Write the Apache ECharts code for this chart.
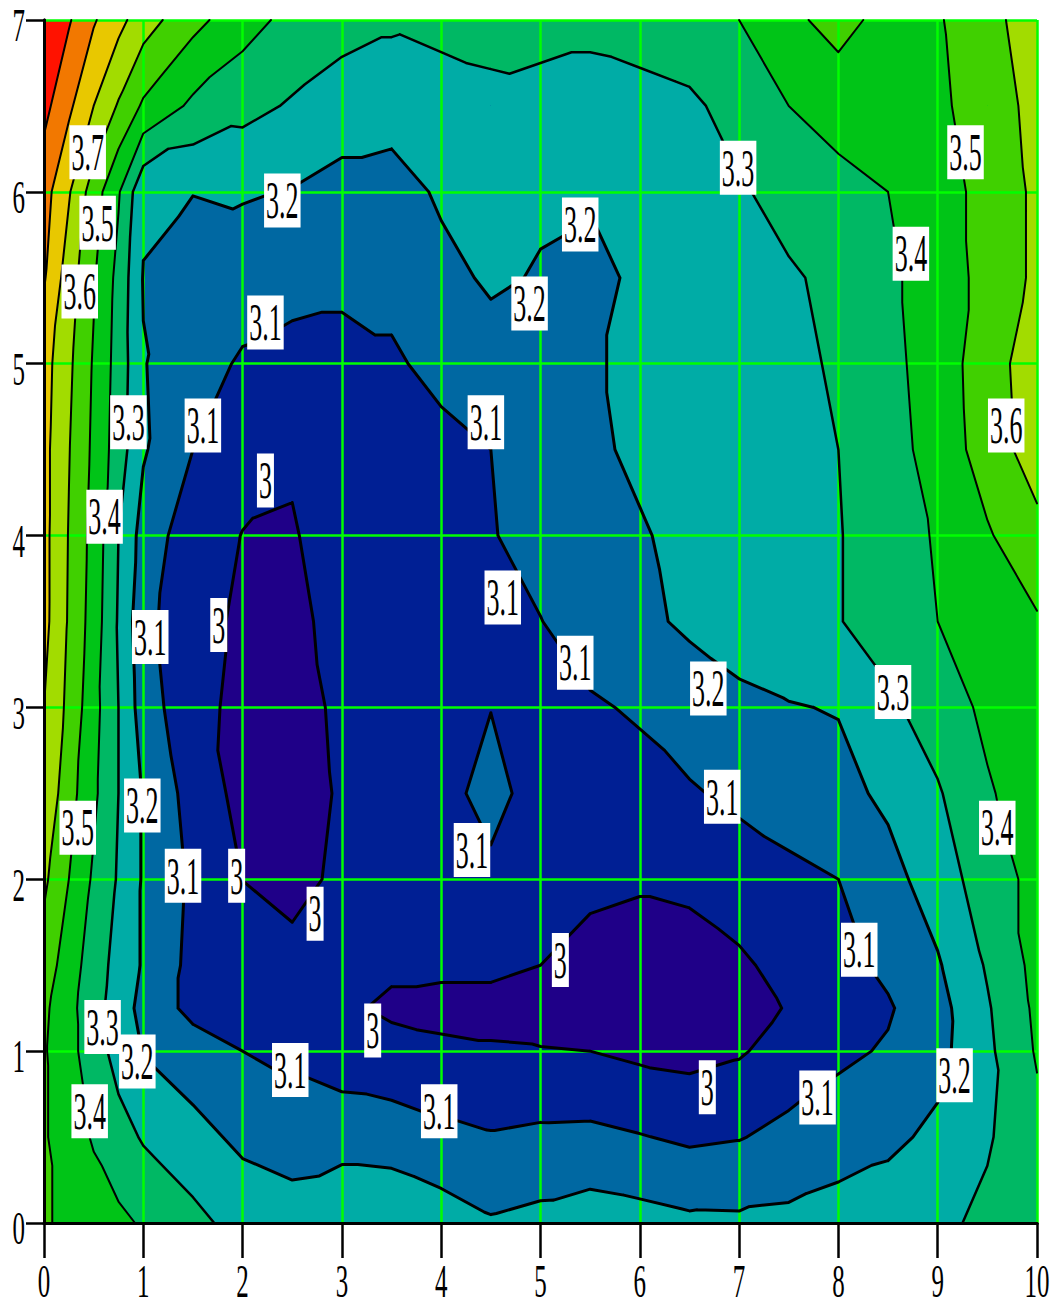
<!DOCTYPE html>
<html>
<head>
<meta charset="utf-8">
<title>Contour</title>
<script src="https://cdn.jsdelivr.net/npm/echarts@6/dist/echarts.min.js"></script>
<style>
  html, body { margin: 0; padding: 0; background: #fff; }
  #chart { width: 1060px; height: 1307px; }
</style>
</head>
<body>
<div id="chart"></div>
<script>
// grid nodes (x across, y up)
const xNodes = [0, 0.25, 0.5, 0.75, 1, 1.5, 2, 2.5, 3, 3.5, 4, 4.5, 5, 5.5, 6, 6.5, 7, 7.5, 8, 8.5, 9, 9.5, 10];
const yNodes = [0, 0.5, 1, 1.25, 1.5, 2, 2.5, 3, 3.5, 4, 4.5, 5, 5.5, 6, 6.5, 7];

// values, one row per y node
const z00  = [3.51, 3.48, 3.45, 3.42, 3.39, 3.33, 3.26, 3.24, 3.27, 3.27, 3.247, 3.21, 3.228, 3.25, 3.237, 3.219, 3.217, 3.223, 3.241, 3.253, 3.28, 3.32, 3.35];
const z05  = [3.51, 3.45, 3.39, 3.34, 3.29, 3.23, 3.18, 3.16, 3.167, 3.16, 3.13, 3.108, 3.12, 3.123, 3.105, 3.084, 3.095, 3.127, 3.155, 3.18, 3.22, 3.29, 3.37];
const z10  = [3.51, 3.43, 3.35, 3.26, 3.195, 3.15, 3.10, 3.07, 3.04, 3.02, 3.01, 3.005, 3.003, 3.00, 2.98, 2.97, 2.99, 3.04, 3.08, 3.11, 3.17, 3.28, 3.41];
const z125 = [3.52, 3.43, 3.34, 3.25, 3.17, 3.07, 3.04, 3.03, 3.01, 2.99, 2.985, 2.985, 2.975, 2.96, 2.95, 2.95, 2.97, 3.005, 3.05, 3.09, 3.165, 3.29, 3.42];
const z15  = [3.554, 3.45, 3.35, 3.265, 3.19, 3.07, 3.03, 3.03, 3.005, 3.01, 3.01, 3.01, 3.00, 2.97, 2.96, 2.96, 2.985, 3.03, 3.07, 3.12, 3.19, 3.31, 3.43];
const z20  = [3.62, 3.50, 3.385, 3.29, 3.19, 3.08, 2.999, 2.97, 3.02, 3.04, 3.05, 3.08, 3.04, 3.02, 3.01, 3.02, 3.05, 3.08, 3.10, 3.165, 3.25, 3.35, 3.43];
const z25  = [3.68, 3.54, 3.42, 3.30, 3.19, 3.06, 2.97, 2.96, 3.01, 3.04, 3.07, 3.13, 3.06, 3.06, 3.07, 3.09, 3.12, 3.14, 3.17, 3.22, 3.29, 3.39, 3.45];
const z30  = [3.70, 3.575, 3.435, 3.30, 3.15, 3.03, 2.975, 2.97, 3.015, 3.04, 3.07, 3.098, 3.07, 3.09, 3.11, 3.15, 3.18, 3.195, 3.205, 3.28, 3.35, 3.42, 3.46];
const z35  = [3.73, 3.59, 3.455, 3.29, 3.13, 3.03, 2.985, 2.985, 3.02, 3.04, 3.06, 3.08, 3.098, 3.14, 3.18, 3.215, 3.24, 3.265, 3.295, 3.35, 3.40, 3.45, 3.49];
const z40  = [3.73, 3.595, 3.465, 3.30, 3.16, 3.04, 2.998, 2.995, 3.03, 3.05, 3.07, 3.095, 3.13, 3.16, 3.19, 3.23, 3.25, 3.27, 3.295, 3.35, 3.41, 3.49, 3.57];
const z45  = [3.73, 3.605, 3.48, 3.35, 3.21, 3.10, 3.03, 3.008, 3.04, 3.06, 3.08, 3.10, 3.14, 3.18, 3.22, 3.24, 3.26, 3.28, 3.30, 3.36, 3.44, 3.545, 3.65];
const z50  = [3.74, 3.62, 3.49, 3.36, 3.205, 3.135, 3.09, 3.07, 3.07, 3.09, 3.12, 3.14, 3.16, 3.19, 3.22, 3.24, 3.26, 3.28, 3.31, 3.37, 3.45, 3.55, 3.66];
const z55  = [3.81, 3.65, 3.51, 3.37, 3.195, 3.16, 3.14, 3.13, 3.12, 3.12, 3.16, 3.22, 3.19, 3.17, 3.22, 3.25, 3.27, 3.29, 3.32, 3.38, 3.45, 3.53, 3.62];
const z60  = [3.84, 3.71, 3.55, 3.41, 3.22, 3.202, 3.21, 3.195, 3.16, 3.14, 3.22, 3.24, 3.22, 3.21, 3.23, 3.26, 3.29, 3.33, 3.36, 3.40, 3.46, 3.53, 3.62];
const z65  = [3.93, 3.82, 3.70, 3.59, 3.485, 3.38, 3.33, 3.29, 3.26, 3.26, 3.25, 3.27, 3.25, 3.25, 3.26, 3.28, 3.34, 3.40, 3.45, 3.46, 3.48, 3.55, 3.63];
const z70  = [4.00, 3.91, 3.81, 3.73, 3.645, 3.53, 3.44, 3.37, 3.33, 3.31, 3.33, 3.34, 3.35, 3.33, 3.35, 3.37, 3.40, 3.48, 3.53, 3.47, 3.49, 3.57, 3.65];
const zRows = [z00, z05, z10, z125, z15, z20, z25, z30, z35, z40, z45, z50, z55, z60, z65, z70];

const levels = [3.0, 3.1, 3.2, 3.3, 3.4, 3.5, 3.6, 3.7, 3.8, 3.9];
const xTicks = [0, 1, 2, 3, 4, 5, 6, 7, 8, 9, 10];
const yTicks = [0, 1, 2, 3, 4, 5, 6, 7];

// contour labels: [x, y, text]
const labelSpots = [
  [0.44, 6.23, '3.7'], [0.54, 5.82, '3.5'], [0.36, 5.42, '3.6'], [2.40, 5.95, '3.2'], [2.23, 5.24, '3.1'],
  [5.40, 5.81, '3.2'], [4.89, 5.35, '3.2'], [6.99, 6.14, '3.3'], [8.73, 5.64, '3.4'], [9.28, 6.23, '3.5'],
  [0.85, 4.66, '3.3'], [1.60, 4.64, '3.1'], [4.45, 4.66, '3.1'], [9.69, 4.64, '3.6'], [2.23, 4.32, '3'],
  [0.61, 4.11, '3.4'], [4.62, 3.64, '3.1'], [1.07, 3.41, '3.1'], [1.76, 3.48, '3'], [5.35, 3.26, '3.1'],
  [6.69, 3.11, '3.2'], [8.55, 3.09, '3.3'], [6.83, 2.48, '3.1'], [0.99, 2.43, '3.2'], [0.34, 2.30, '3.5'],
  [9.60, 2.30, '3.4'], [4.31, 2.17, '3.1'], [1.40, 2.02, '3.1'], [1.94, 2.02, '3'], [2.73, 1.80, '3'],
  [8.21, 1.59, '3.1'], [5.20, 1.53, '3'], [0.59, 1.14, '3.3'], [3.31, 1.12, '3'], [0.94, 0.94, '3.2'],
  [2.48, 0.89, '3.1'], [9.17, 0.86, '3.2'], [6.68, 0.79, '3'], [7.79, 0.73, '3.1'], [0.46, 0.65, '3.4'],
  [3.98, 0.65, '3.1']
];

// band colours, lowest first
const bandColors = ['#1f0088', '#001f94', '#0068a2', '#00aca6', '#00b864', '#00c417',
  '#40d000', '#a2dc00', '#e8c800', '#f27800', '#ff1200'];
// the inner contour lines are drawn a little heavier
const lineWidths = [3, 3, 3, 2.5, 2, 2, 2, 2, 2, 2];

const serif = '"Liberation Serif", "DejaVu Serif", serif';

// split every grid cell into two triangles
const tris = [];
for (let j = 0; j < yNodes.length - 1; j++) {
  for (let i = 0; i < xNodes.length - 1; i++) {
    const a = [xNodes[i], yNodes[j], zRows[j][i]];
    const b = [xNodes[i + 1], yNodes[j], zRows[j][i + 1]];
    const c = [xNodes[i + 1], yNodes[j + 1], zRows[j + 1][i + 1]];
    const d = [xNodes[i], yNodes[j + 1], zRows[j + 1][i]];
    if (Math.abs(a[2] - c[2]) <= Math.abs(b[2] - d[2])) {
      tris.push([a, b, c], [a, c, d]);
    } else {
      tris.push([a, b, d], [b, c, d]);
    }
  }
}

// keep the part of a polygon where value >= lv
function clipAbove(poly, lv) {
  const out = [];
  for (let i = 0; i < poly.length; i++) {
    const a = poly[i], b = poly[(i + 1) % poly.length];
    const ina = a[2] >= lv, inb = b[2] >= lv;
    if (ina) out.push(a);
    if (ina !== inb) {
      const t = (lv - a[2]) / (b[2] - a[2]);
      out.push([a[0] + t * (b[0] - a[0]), a[1] + t * (b[1] - a[1]), lv]);
    }
  }
  return out;
}

function pt(api, x, y) {
  const p = api.coord([x, y]);
  return p[0].toFixed(2) + ' ' + p[1].toFixed(2);
}

function renderBand(params, api) {
  const k = params.dataIndex;
  const lv = k === 0 ? -Infinity : levels[k - 1];
  let d = '';
  tris.forEach(function (t) {
    const poly = clipAbove(t, lv);
    if (poly.length < 3) return;
    d += poly.map(function (q, n) { return (n ? 'L' : 'M') + pt(api, q[0], q[1]); }).join('') + 'Z';
  });
  return { type: 'path', shape: { pathData: d || 'M0 0' }, style: { fill: bandColors[k], stroke: null } };
}

function renderLevel(params, api) {
  const k = params.dataIndex;
  const lv = levels[k];
  let d = '';
  tris.forEach(function (t) {
    const hits = [];
    for (let e = 0; e < 3; e++) {
      const a = t[e], b = t[(e + 1) % 3];
      if ((a[2] < lv) !== (b[2] < lv)) {
        const s = (lv - a[2]) / (b[2] - a[2]);
        hits.push([a[0] + s * (b[0] - a[0]), a[1] + s * (b[1] - a[1])]);
      }
    }
    if (hits.length === 2) {
      d += 'M' + pt(api, hits[0][0], hits[0][1]) + 'L' + pt(api, hits[1][0], hits[1][1]);
    }
  });
  return {
    type: 'path', shape: { pathData: d || 'M0 0' },
    style: { fill: null, stroke: '#000', lineWidth: lineWidths[k], lineCap: 'round', lineJoin: 'round' }
  };
}

function renderLabel(params, api) {
  const s = labelSpots[params.dataIndex];
  const p = api.coord([s[0], s[1]]);
  return {
    type: 'text', x: p[0], y: p[1], scaleY: 2,
    style: {
      text: s[2], font: '26px ' + serif, fill: '#000', align: 'center', verticalAlign: 'middle',
      backgroundColor: '#fff', padding: [1, 2, 0, 2], lineHeight: 26
    }
  };
}

function renderTick(params, api) {
  const n = params.dataIndex;
  if (n < xTicks.length) {
    const p = api.coord([xTicks[n], 0]);
    return {
      type: 'text', x: p[0], y: p[1] + 58, scaleY: 1.9,
      style: { text: String(xTicks[n]), font: '25px ' + serif, fill: '#000', align: 'center', verticalAlign: 'middle', lineHeight: 22 }
    };
  }
  const v = yTicks[n - xTicks.length];
  const p = api.coord([0, v]);
  return {
    type: 'text', x: p[0] - 19, y: p[1] + 5, scaleY: 1.9,
    style: { text: String(v), font: '25px ' + serif, fill: '#000', align: 'right', verticalAlign: 'middle', lineHeight: 22 }
  };
}

const chart = echarts.init(document.getElementById('chart'), null, { renderer: 'svg' });

const frameLine = { lineStyle: { color: '#000', width: 3 } };

chart.setOption({
  animation: false,
  grid: { left: 44, right: 23, top: 20, bottom: 84 },
  xAxis: [
    {
      type: 'value', min: 0, max: 10, interval: 1, position: 'bottom', z: 2,
      axisLine: frameLine,
      axisTick: { length: 35, lineStyle: { color: '#000', width: 2.5 } },
      axisLabel: { show: false },
      splitLine: { lineStyle: { color: '#00ff00', width: 2.5 } }
    },
    {
      type: 'value', min: 0, max: 10, interval: 1, position: 'top', z: 2,
      axisLine: frameLine, axisTick: { show: false }, axisLabel: { show: false }, splitLine: { show: false }
    }
  ],
  yAxis: [
    {
      type: 'value', min: 0, max: 7, interval: 1, position: 'left', z: 2,
      axisLine: frameLine,
      axisTick: { length: 18, lineStyle: { color: '#000', width: 2.5 } },
      axisLabel: { show: false },
      splitLine: { lineStyle: { color: '#00ff00', width: 2.5 } }
    },
    {
      type: 'value', min: 0, max: 7, interval: 1, position: 'right', z: 2,
      axisLine: frameLine, axisTick: { show: false }, axisLabel: { show: false }, splitLine: { show: false }
    }
  ],
  series: [
    {
      name: 'bands', type: 'custom', z: 1, silent: true,
      renderItem: renderBand, data: bandColors.map(function () { return [0, 0]; })
    },
    {
      name: 'contours', type: 'custom', z: 3, silent: true,
      renderItem: renderLevel, data: levels.map(function () { return [0, 0]; })
    },
    {
      name: 'contour labels', type: 'custom', z: 4, silent: true,
      renderItem: renderLabel, data: labelSpots.map(function () { return [0, 0]; })
    },
    {
      name: 'tick labels', type: 'custom', z: 4, silent: true,
      renderItem: renderTick, data: xTicks.concat(yTicks).map(function () { return [0, 0]; })
    }
  ]
});
</script>
</body>
</html>
